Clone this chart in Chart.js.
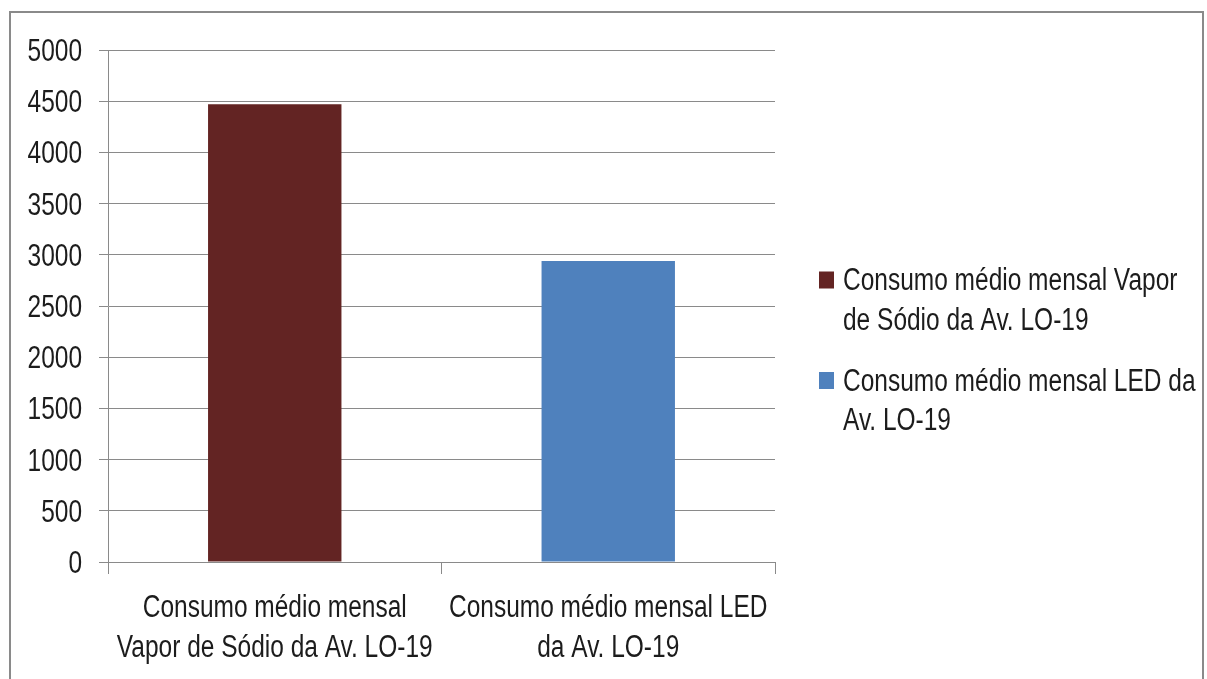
<!DOCTYPE html>
<html>
<head>
<meta charset="utf-8">
<script src="https://cdn.jsdelivr.net/npm/chart.js@4.4.1/dist/chart.umd.min.js"></script>
<style>
  html, body { margin: 0; padding: 0; background: #fff; overflow: hidden; }
  #wrap { position: relative; width: 1207px; height: 679px; }
  #frame { position: absolute; left: 9px; top: 11px; width: 1195px; height: 720px;
           border: 2px solid #8a8a8a; box-sizing: border-box; }
  #c { position: absolute; left: 0; top: 0; }
</style>
</head>
<body>
<div id="wrap">
  <div id="frame"></div>
  <canvas id="c" width="1207" height="679"></canvas>
</div>
<script>
// Categories (two-line axis labels) and legend captions
const categories = [
  ['Consumo médio mensal', 'Vapor de Sódio da Av. LO-19'],
  ['Consumo médio mensal LED', 'da Av. LO-19']
];
const legendLabels = [
  ['Consumo médio mensal Vapor', 'de Sódio da Av. LO-19'],
  ['Consumo médio mensal LED da', 'Av. LO-19']
];
// Average monthly consumption values
const consumo = [4470, 2940];
const barColors = ['#632423', '#4F81BD'];
// Value axis range
const yMin = 0;
const yMax = 5000;
const yStep = 500;

const FONT = "31px 'Liberation Sans', Arial, sans-serif";
const SX = 0.79;            // horizontal squeeze for a narrow face
const TEXT = '#1c1c1c';
const GRID = '#8a8a8a';

function narrowText(ctx, str, x, y, align) {
  ctx.save();
  ctx.translate(x, y);
  ctx.scale(SX, 1);
  ctx.textAlign = align;
  ctx.textBaseline = 'alphabetic';
  ctx.fillText(str, 0, 0);
  ctx.restore();
}

// Axis labels and legend in a condensed face
const narrowLabels = {
  id: 'narrowLabels',
  afterDraw(chart) {
    const ctx = chart.ctx;
    const xs = chart.scales.x, ys = chart.scales.y;
    ctx.save();
    ctx.font = FONT;
    ctx.fillStyle = TEXT;

    // value axis
    ys.ticks.forEach(t => {
      const y = ys.getPixelForValue(t.value);
      narrowText(ctx, String(t.value), ys.right - 26, y + 11, 'right');
    });

    // category axis
    categories.forEach((lines, i) => {
      const cx = xs.getPixelForTick(i);
      lines.forEach((s, k) => narrowText(ctx, s, cx, xs.top + 55 + k * 39.5, 'center'));
    });

    // legend
    const boxX = 819, boxW = 15, boxH = 17, textX = 843;
    const base = [290, 390.5];
    legendLabels.forEach((lines, i) => {
      ctx.fillStyle = barColors[i];
      ctx.fillRect(boxX, base[i] - 18.5, boxW, boxH);
      ctx.fillStyle = TEXT;
      lines.forEach((s, k) => narrowText(ctx, s, textX, base[i] + k * 39.5, 'left'));
    });
    ctx.restore();
  }
};

new Chart(document.getElementById('c'), {
  type: 'bar',
  data: {
    labels: categories,
    datasets: [{
      data: consumo,
      backgroundColor: barColors,
      borderWidth: 0,
      categoryPercentage: 0.4,
      barPercentage: 1.0
    }]
  },
  options: {
    responsive: false,
    animation: false,
    events: [],
    layout: { padding: { left: 0, top: 50, right: 432, bottom: 0 } },
    plugins: { legend: { display: false }, tooltip: { enabled: false } },
    scales: {
      x: {
        grid: { offset: true, drawOnChartArea: false, drawTicks: true, tickLength: 12, color: GRID, lineWidth: 1 },
        border: { display: true, color: GRID, width: 1 },
        ticks: { color: 'rgba(0,0,0,0)', font: { size: 12 }, maxRotation: 0, autoSkip: false },
        afterFit(s) { s.height = 117; }
      },
      y: {
        min: yMin, max: yMax,
        grid: { drawTicks: true, tickLength: 9, color: GRID, lineWidth: 1 },
        border: { display: true, color: GRID, width: 1 },
        ticks: { stepSize: yStep, color: 'rgba(0,0,0,0)', font: { size: 12 } },
        afterFit(s) { s.width = 108; }
      }
    }
  },
  plugins: [narrowLabels]
});
</script>
</body>
</html>
